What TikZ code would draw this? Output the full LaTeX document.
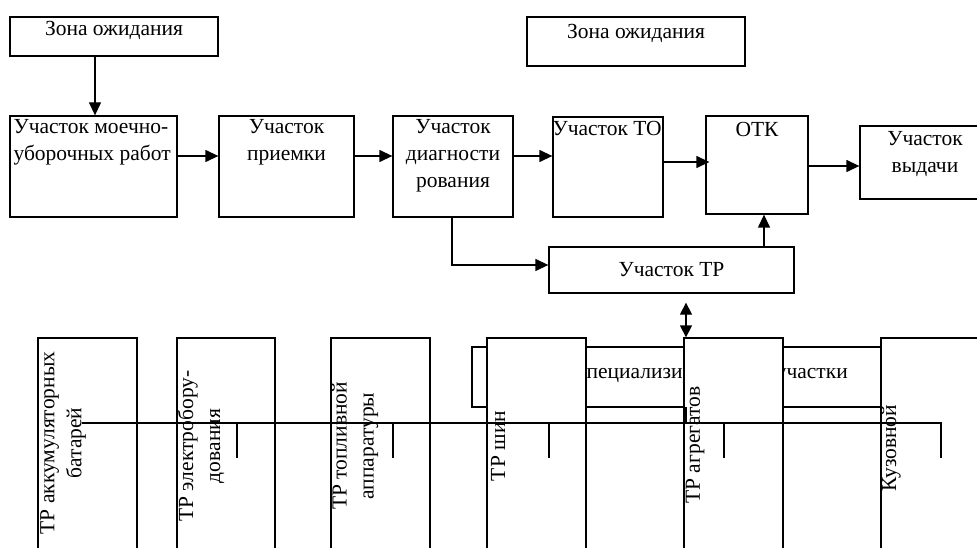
\documentclass[tikz,border=0pt]{standalone}
\usepackage{fontspec}
\setmainfont{Liberation Serif}
\usetikzlibrary{arrows.meta,calc}
\begin{document}
\begin{tikzpicture}[x=1pt,y=-1pt,
  box/.style={draw,line width=1.3pt,fill=white,inner sep=0pt},
  txt/.style={font=\fontsize{21.5}{27}\selectfont,inner sep=0pt,align=center},
  ln/.style={line width=1.3pt},
  arr/.style={line width=1.3pt,-{Triangle[length=13pt,width=12pt]}},
  darr/.style={line width=1.3pt,{Triangle[length=12pt,width=12pt]}-{Triangle[length=12pt,width=12pt]}}]
\useasboundingbox (0,0) rectangle (977,548);
\clip (0,0) rectangle (977,548);
\fill[white] (0,0) rectangle (977,548);

% top row
\node[box,minimum width=208pt,minimum height=39pt] (z1) at (114,36.5) {};
\node[txt,anchor=north] (z1t) at ([yshift=-5pt]z1.north) {Зона ожидания};
\node[box,minimum width=218pt,minimum height=49pt] (z2) at (636,41.5) {};
\node[txt,anchor=north] (z2t) at ([yshift=-8pt]z2.north) {Зона ожидания};

\node[box,minimum width=167pt,minimum height=101pt] (m) at (93.5,166.5) {};
\node[txt,anchor=north west,align=left] (mt) at ([xshift=4pt,yshift=-4pt]m.north west) {Участок моечно-\\уборочных работ};
\node[box,minimum width=135pt,minimum height=101pt] (p) at (286.5,166.5) {};
\node[txt,anchor=north] (pt) at ([yshift=-4pt]p.north) {Участок\\приемки};
\node[box,minimum width=120pt,minimum height=101pt] (d) at (453,166.5) {};
\node[txt,anchor=north] (dt) at ([yshift=-4pt]d.north) {Участок\\диагности\\рования};
\node[box,minimum width=110pt,minimum height=100pt] (to) at (608,167) {};
\node[txt,anchor=north west] (tot) at ([xshift=0pt,yshift=-5pt]to.north west) {Участок ТО};
\node[box,minimum width=102pt,minimum height=98pt] (otk) at (757,165) {};
\node[txt,anchor=north] (otkt) at ([yshift=-7pt]otk.north) {ОТК};
\node[box,minimum width=130pt,minimum height=73pt] (v) at (925,162.5) {};
\node[txt,anchor=north] (vt) at ([yshift=-6pt]v.north) {Участок\\выдачи};

\node[box,minimum width=245pt,minimum height=46pt] (tr) at (671.5,270) {};
\node[txt] (trt) at (tr.center) {Участок ТР};

% arrows
\draw[arr] (z1.south -| 95,0) -- (m.north -| 95,0);
\draw[arr] (m.east |- 0,156) -- (p.west |- 0,156);
\draw[arr] (p.east |- 0,156) -- (d.west |- 0,156);
\draw[arr] (d.east |- 0,156) -- (to.west |- 0,156);
\draw[arr] (to.east |- 0,162) -- ([xshift=4pt]otk.west |- 0,162);
\draw[arr] (otk.east |- 0,166) -- (v.west |- 0,166);
\draw[arr] (d.south -| 452,0) |- (tr.west |- 0,265);
\draw[arr] (tr.north -| 764,0) -- (otk.south -| 764,0);

% specialised
\node[box,minimum width=409pt,minimum height=60pt] (spec) at (676.5,377) {};
\node[txt,anchor=base west] (spect) at (572,378) {Специализированные участки};

\node[box,minimum width=99pt,minimum height=222pt] (b1) at (87.5,449) {};
\node[txt,rotate=90] (b1t) at (63,443) {ТР аккумуляторных\\батарей};
\node[box,minimum width=98pt,minimum height=222pt] (b2) at (226,449) {};
\node[txt,rotate=90] (b2t) at (201,446) {ТР электробору-\\дования};
\node[box,minimum width=99pt,minimum height=222pt] (b3) at (380.5,449) {};
\node[txt,rotate=90] (b3t) at (355,446) {ТР топливной\\аппаратуры};
\node[box,minimum width=99pt,minimum height=222pt] (b4) at (536.5,449) {};
\node[txt,rotate=90] (b4t) at (498,446) {ТР шин};
\node[box,minimum width=99pt,minimum height=222pt] (b5) at (733.5,449) {};
\node[txt,rotate=90] (b5t) at (695,445) {ТР агрегатов};
\node[box,minimum width=119pt,minimum height=222pt] (b6) at (940.5,449) {};
\node[txt,rotate=90] (b6t) at (891,448) {Кузовной};

% bus line
\coordinate (bs) at (82,423);
\coordinate (be) at (941,423);
\draw[ln] (bs) -- (be) -- ++(0,35);
\foreach \x in {237,393,549,724} \draw[ln] (\x,423) -- ++(0,35);
\draw[ln] (686,407) -- (686,423);

\draw[darr] ($(tr.south -| 686,0)+(0,9)$) -- (b5.north -| 686,0);
\end{tikzpicture}
\end{document}
